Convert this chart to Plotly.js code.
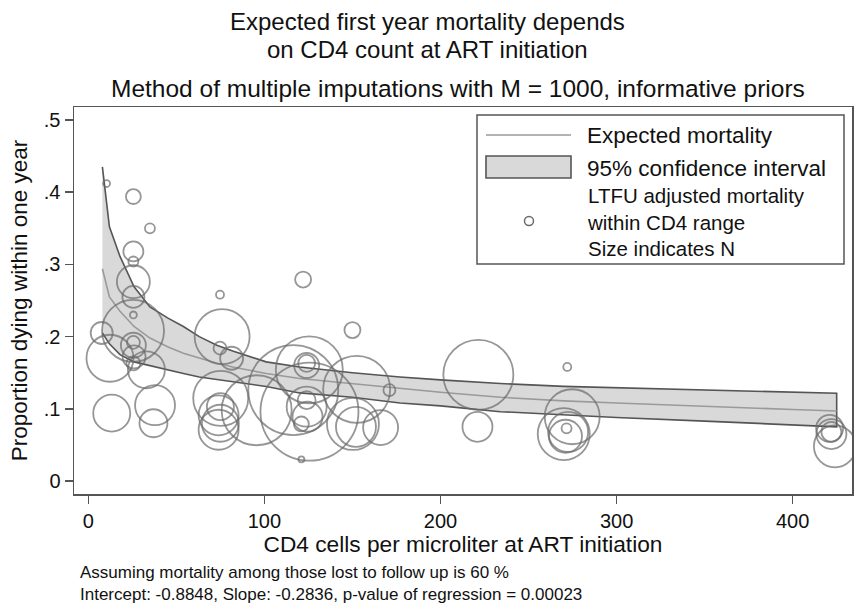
<!DOCTYPE html>
<html><head><meta charset="utf-8">
<script src="https://cdn.plot.ly/plotly-3.0.1.min.js"></script>
<style>html,body{margin:0;padding:0;background:#fff}</style>
</head><body><div id="chart" style="width:854px;height:605px"></div>
<script>
// Fitted curve
const curveCD4 = [8, 12, 18, 26, 35, 45, 54, 63, 73, 82, 101, 120, 150, 177, 200, 234, 270, 300, 350, 400, 425];
const expected = [0.294, 0.255, 0.235, 0.214, 0.198, 0.186, 0.177, 0.170, 0.163, 0.158, 0.149, 0.142, 0.135, 0.128, 0.123, 0.116, 0.111, 0.108, 0.103, 0.099, 0.097];
const ciUpper  = [0.435, 0.352, 0.311, 0.269, 0.241, 0.226, 0.214, 0.200, 0.188, 0.180, 0.165, 0.158, 0.150, 0.144, 0.140, 0.135, 0.131, 0.129, 0.126, 0.123, 0.1215];
const ciLower  = [0.205, 0.190, 0.175, 0.165, 0.159, 0.154, 0.149, 0.144, 0.140, 0.1375, 0.131, 0.122, 0.116, 0.108, 0.104, 0.096, 0.092, 0.088, 0.083, 0.078, 0.075];

// LTFU adjusted mortality within CD4 range (bubbles), N = relative size
const obsCD4  = [10.4, 25.6, 35, 25.6, 25.6, 25.6, 25.6, 25.6, 25.4, 7.6, 25.6, 25.6, 12.3, 26, 25.6, 33, 13.3, 37.9, 37,
                 74.8, 76, 74.8, 81.4, 75.2, 75, 74, 75, 74,
                 95.6,
                 116.4, 125.5, 124, 124, 125.6, 124, 124, 124.5, 121, 122, 121,
                 150, 152.4, 150.3, 152, 166, 171,
                 221.5, 221,
                 272, 274.8, 271.6, 270, 272.5, 271,
                 421, 422, 422, 424];
const obsMort = [0.412, 0.394, 0.350, 0.318, 0.304, 0.276, 0.255, 0.230, 0.208, 0.205, 0.192, 0.188, 0.170, 0.172, 0.163, 0.154, 0.094, 0.105, 0.080,
                 0.258, 0.200, 0.184, 0.170, 0.1145, 0.103, 0.091, 0.080, 0.071,
                 0.098,
                 0.126, 0.154, 0.163, 0.160, 0.096, 0.103, 0.112, 0.089, 0.079, 0.279, 0.030,
                 0.209, 0.127, 0.079, 0.075, 0.074, 0.126,
                 0.147, 0.075,
                 0.158, 0.089, 0.073, 0.065, 0.068, 0.062,
                 0.073, 0.068, 0.065, 0.048];
const obsN    = [12, 56, 25, 100, 25, 272, 121, 12, 961, 121, 42, 156, 552, 132, 49, 342, 342, 400, 196,
                 16, 756, 42, 132, 756, 182, 400, 342, 400,
                 1225,
                 2025, 1122, 72, 156, 2401, 400, 81, 225, 56, 64, 9,
                 64, 1122, 676, 400, 306, 36,
                 1225, 225,
                 16, 756, 25, 676, 400, 272,
                 182, 100, 225, 441];

const xTickVals = [0, 100, 200, 300, 400];
const yTickVals = [0, 0.1, 0.2, 0.3, 0.4, 0.5];
const yTickText = ['0', '.1', '.2', '.3', '.4', '.5'];

const legendLabels = ['Expected mortality', '95% confidence interval', 'LTFU adjusted mortality<br>within CD4 range<br>Size indicates N'];
const noteLines = ['Assuming mortality among those lost to follow up is 60 %', 'Intercept: -0.8848, Slope: -0.2836, p-value of regression = 0.00023'];

const FONT = 'Liberation Sans, Arial, Helvetica, sans-serif';
const INK = '#111';
const FRAME = '#555';
const BAND_FILL = '#d9d9d9';
const MEAN_LINE = '#9a9a9a';
const BUBBLE = '#6a6a6a';

const bandX = curveCD4.concat(curveCD4.slice().reverse());
const bandY = ciUpper.concat(ciLower.slice().reverse());

const traces = [
  {
    type: 'scatter', mode: 'lines', name: legendLabels[1],
    x: bandX, y: bandY, fill: 'toself', fillcolor: BAND_FILL,
    line: {color: FRAME, width: 1.6}, hoverinfo: 'skip'
  },
  {
    type: 'scatter', mode: 'lines', name: legendLabels[0],
    x: curveCD4, y: expected, line: {color: MEAN_LINE, width: 1.6}
  },
  {
    type: 'scatter', mode: 'markers', name: legendLabels[2],
    x: obsCD4, y: obsMort,
    marker: {symbol: 'circle-open', size: obsN, sizemode: 'area', sizeref: 0.5,
             color: BUBBLE, line: {color: BUBBLE, width: 1.8}}
  }
];

const plotL = 74, plotR = 852, plotT = 107, plotB = 494;
const py = p => (plotB - p) / (plotB - plotT);
const px = p => (p - plotL) / (plotR - plotL);

// hand-drawn legend (Stata-style) in paper coordinates
const legendShapes = [
  {type: 'rect', xref: 'paper', yref: 'paper', x0: px(477), x1: px(844), y0: py(115), y1: py(264),
   fillcolor: '#fff', line: {color: FRAME, width: 1.5}, layer: 'above'},
  {type: 'line', xref: 'paper', yref: 'paper', x0: px(486), x1: px(571), y0: py(135), y1: py(135),
   line: {color: MEAN_LINE, width: 1.6}, layer: 'above'},
  {type: 'rect', xref: 'paper', yref: 'paper', x0: px(486), x1: px(571), y0: py(156), y1: py(178),
   fillcolor: BAND_FILL, line: {color: FRAME, width: 1.6}, layer: 'above'},
  {type: 'circle', xref: 'paper', yref: 'paper', x0: px(524.5), x1: px(533.5), y0: py(216.5), y1: py(225.5),
   line: {color: BUBBLE, width: 1.5}, layer: 'above'}
];

const ann = (text, x, y, size, anchor) => ({
  text, xref: 'paper', yref: 'paper', x: px(x), y: py(y), xanchor: anchor || 'center', yanchor: 'middle',
  align: anchor || 'center', showarrow: false, font: {size, color: INK, family: FONT}
});

const layout = {
  width: 854, height: 605,
  margin: {l: plotL, r: 854 - plotR, t: plotT, b: 605 - plotB, pad: 0},
  paper_bgcolor: '#fff', plot_bgcolor: '#fff',
  font: {family: FONT, color: INK, size: 20},
  showlegend: false,
  xaxis: {
    range: [-8.12, 433.7], tickvals: xTickVals, ticks: 'outside', ticklen: 8, tickwidth: 1.5,
    tickcolor: FRAME, showline: true, mirror: true, linecolor: FRAME, linewidth: 1.5,
    showgrid: false, zeroline: false, tickfont: {size: 20, color: INK},
    title: {text: 'CD4 cells per microliter at ART initiation', font: {size: 22.7, color: INK}, standoff: 2}
  },
  yaxis: {
    range: [-0.018, 0.518], tickvals: yTickVals, ticktext: yTickText, ticks: 'outside', ticklen: 8, tickwidth: 1.5,
    tickcolor: FRAME, showline: true, mirror: true, linecolor: FRAME, linewidth: 1.5,
    showgrid: false, zeroline: false, tickfont: {size: 20, color: INK},
    title: {text: 'Proportion dying within one year', font: {size: 22.5, color: INK}, standoff: 10}
  },
  shapes: legendShapes,
  annotations: [
    ann('Expected first year mortality depends', 427, 22, 24),
    ann('on CD4 count at ART initiation', 427, 49, 24),
    ann('Method of multiple imputations with M = 1000, informative priors', 458, 89, 24.5),
    ann(legendLabels[0], 585, 135.5, 22.5, 'left'),
    ann(legendLabels[1], 585, 168, 22.5, 'left'),
    ann(legendLabels[2], 585, 222, 20.5, 'left'),
    ann(noteLines.join('<br>'), 78, 583, 17, 'left')
  ]
};

Plotly.newPlot('chart', traces, layout, {displayModeBar: false, staticPlot: true});
</script>
</body></html>
